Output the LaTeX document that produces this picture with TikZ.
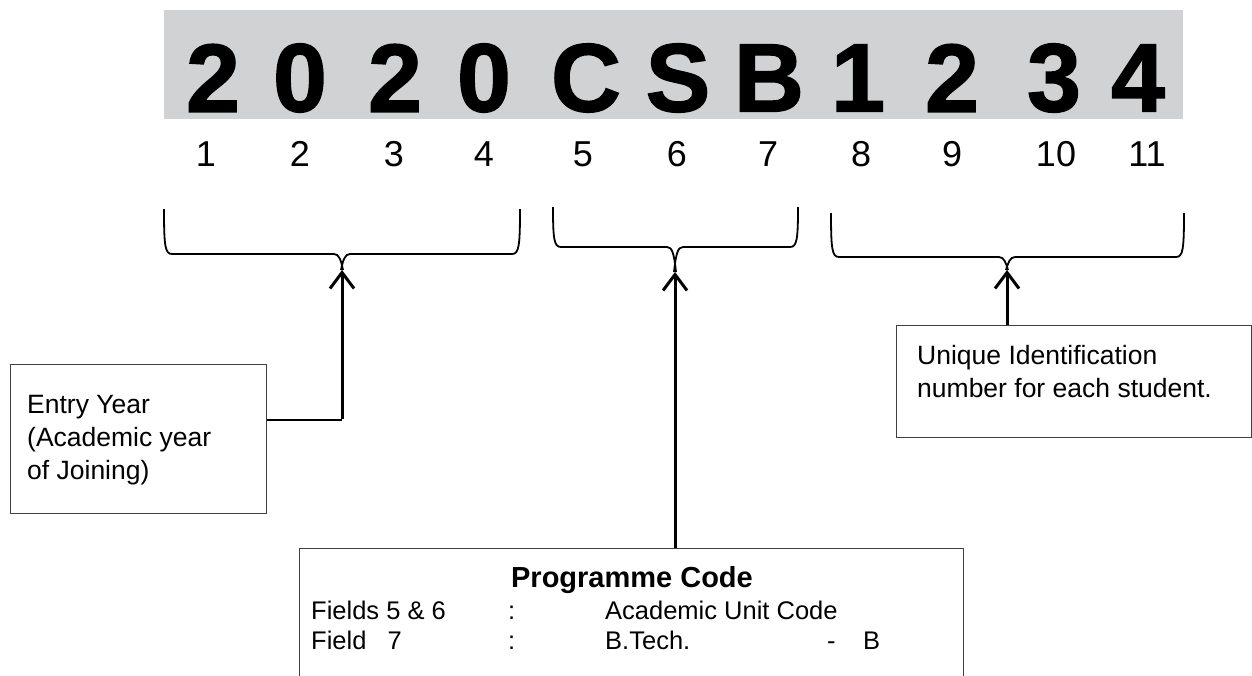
\documentclass[tikz,border=0pt]{standalone}
\usepackage{fontspec}
\setmainfont{Liberation Sans}
\newfontfamily\heavyfont[BoldFeatures={FakeBold=1.5}]{Liberation Sans}
\usetikzlibrary{arrows.meta}
\definecolor{bannergray}{HTML}{D1D2D4}
\definecolor{boxline}{HTML}{404040}
\newcommand{\regbrace}[7]{% L R T B C P name
  \coordinate (#7) at (#5,#6);
  \draw[bracepath] (#1,#3) .. controls (#1,#4-8) and (#1+1,#4) .. (#1+8,#4)
     -- (#5-8,#4) .. controls (#5-3,#4) and (#5-1,#4+6) .. (#5+1,#6);
  \draw[bracepath] (#2,#3) .. controls (#2,#4-8) and (#2-1,#4) .. (#2-8,#4)
     -- (#5+8,#4) .. controls (#5+3,#4) and (#5+1,#4+6) .. (#5-1,#6);
}
\begin{document}
\begin{tikzpicture}[x=1pt,y=-1pt,
  bigdigit/.style={font=\heavyfont\bfseries\fontsize{97}{97}\selectfont, inner sep=0pt},
  posnum/.style={font=\fontsize{36}{36}\selectfont, inner sep=0pt},
  bracepath/.style={line width=1.8pt, line join=round},
  infobox/.style={draw=boxline, line width=1pt, inner sep=0pt, anchor=north west},
  boxtext/.style={font=\fontsize{26.5}{33}\selectfont, align=left, anchor=north west, inner sep=0pt},
  pointer/.style={line width=3pt, -{Straight Barb[length=16pt,width=24pt,line width=3pt]}},
  feeder/.style={line width=2pt}
]
\useasboundingbox (0,0) rectangle (1252,675);
\node[fill=bannergray, minimum width=1019pt, minimum height=109pt, anchor=north west, inner sep=0pt] (banner) at (164,10) {};
% big characters
\foreach \x/\c [count=\i] in {213/2,300/0,395/2,484/0,586/C,678/S,769/B,858/1,952/2,1054/3,1138/4}
  \node[bigdigit] (d\i) at (\x,78) {\c};
% position numbers
\foreach \x [count=\i] in {206,300,394,484,583,677,768,861,952,1056,1147}
  \node[posnum] (n\i) at (\x,154) {\i};
% braces
\regbrace{164}{520}{209}{254}{342}{270}{tip1}
\regbrace{553}{798}{207}{247}{675}{272}{tip2}
\regbrace{831}{1184}{213}{257}{1007}{270}{tip3}
% boxes
\node[infobox, minimum width=256pt, minimum height=149pt] (entry) at (10,364) {};
\node[boxtext] (entrytext) at (27,395) {Entry Year\\(Academic year\\of Joining)};
\node[infobox, minimum width=355pt, minimum height=112pt] (unique) at (896,325) {};
\node[boxtext] (uniquetext) at (917,345) {Unique Identification\\number for each student.};
\node[infobox, minimum width=664pt, minimum height=160pt] (prog) at (299,548) {};
\node[font=\bfseries\fontsize{29}{29}\selectfont, anchor=base, inner sep=0pt] (progtitle) at (632,587) {Programme Code};
\node[font=\fontsize{25.5}{30}\selectfont, anchor=base west, inner sep=0pt] (progrows) at (311,619)
  {\begin{tabular}[t]{@{}l@{}l@{}l@{}l@{}l@{}}
   \makebox[197pt][l]{Fields 5 \& 6} & \makebox[97pt][l]{:} & \makebox[222pt][l]{Academic Unit Code} & \makebox[36pt][l]{} & \\
   \makebox[197pt][l]{Field \ \ 7} & \makebox[97pt][l]{:} & \makebox[222pt][l]{B.Tech.} & \makebox[36pt][l]{-} & B
   \end{tabular}};
% connectors
\coordinate (entryout) at ([yshift=19.5pt]entry.east);
\draw[feeder] (entryout) -- (entryout -| tip1);
\draw[pointer] ([yshift=1pt]entryout -| tip1) -- (tip1);
\draw[pointer] (prog.north -| tip2) -- (tip2);
\draw[pointer] (unique.north -| tip3) -- (tip3);
\end{tikzpicture}
\end{document}
